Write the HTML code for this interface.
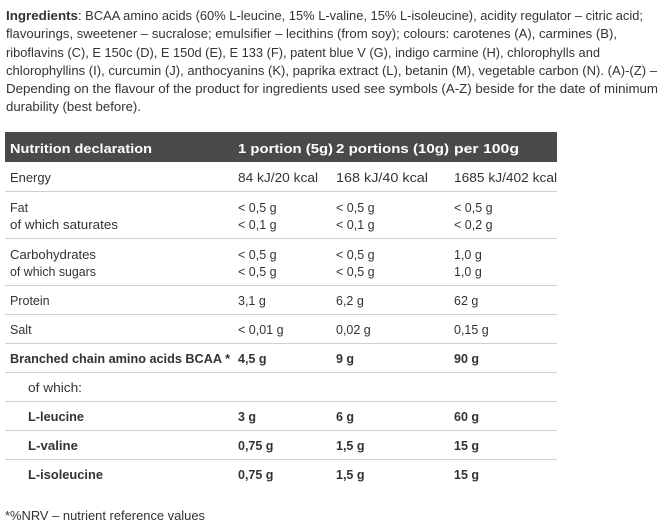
<!DOCTYPE html>
<html><head><meta charset="utf-8"><style>
html,body{margin:0;padding:0;background:#fff;}
svg{display:block;font-family:"Liberation Sans",sans-serif;font-size:13px;fill:#333;}
.b{font-weight:bold;}
.h{font-weight:bold;fill:#fff;}
</style></head><body>
<svg width="669" height="529" viewBox="0 0 669 529">
<g lengthAdjust="spacingAndGlyphs">
<text x="6" y="20"><tspan class="b" textLength="72" lengthAdjust="spacingAndGlyphs">Ingredients</tspan></text>
<text x="78" y="20" textLength="565" lengthAdjust="spacingAndGlyphs">: BCAA amino acids (60% L-leucine, 15% L-valine, 15% L-isoleucine), acidity regulator – citric acid;</text>
<text x="6" y="38" textLength="611" lengthAdjust="spacingAndGlyphs">flavourings, sweetener – sucralose; emulsifier – lecithins (from soy); colours: carotenes (A), carmines (B),</text>
<text x="6" y="57" textLength="594" lengthAdjust="spacingAndGlyphs">riboflavins (C), E 150c (D), E 150d (E), E 133 (F), patent blue V (G), indigo carmine (H), chlorophylls and</text>
<text x="6" y="75" textLength="651" lengthAdjust="spacingAndGlyphs">chlorophyllins (I), curcumin (J), anthocyanins (K), paprika extract (L), betanin (M), vegetable carbon (N). (A)-(Z) –</text>
<text x="6" y="93" textLength="652" lengthAdjust="spacingAndGlyphs">Depending on the flavour of the product for ingredients used see symbols (A-Z) beside for the date of minimum</text>
<text x="6" y="111" textLength="135" lengthAdjust="spacingAndGlyphs">durability (best before).</text>
</g>
<rect x="5" y="132" width="552" height="30" fill="#4a4a4a"/>
<text class="h" x="10" y="153" textLength="142" lengthAdjust="spacingAndGlyphs">Nutrition declaration</text>
<text class="h" x="238" y="153" textLength="95" lengthAdjust="spacingAndGlyphs">1 portion (5g)</text>
<text class="h" x="336" y="153" textLength="113" lengthAdjust="spacingAndGlyphs">2 portions (10g)</text>
<text class="h" x="454" y="153" textLength="65" lengthAdjust="spacingAndGlyphs">per 100g</text>
<g fill="#d0d0d0">
<rect x="5" y="191" width="552" height="1"/>
<rect x="5" y="238" width="552" height="1"/>
<rect x="5" y="285" width="552" height="1"/>
<rect x="5" y="314" width="552" height="1"/>
<rect x="5" y="343" width="552" height="1"/>
<rect x="5" y="372" width="552" height="1"/>
<rect x="5" y="401" width="552" height="1"/>
<rect x="5" y="430" width="552" height="1"/>
<rect x="5" y="459" width="552" height="1"/>
</g>
<g font-size="12.5">
<text x="10" y="182" textLength="41" lengthAdjust="spacingAndGlyphs">Energy</text>
<text x="238" y="182" textLength="80" lengthAdjust="spacingAndGlyphs">84 kJ/20 kcal</text>
<text x="336" y="182" textLength="92" lengthAdjust="spacingAndGlyphs">168 kJ/40 kcal</text>
<text x="454" y="182" textLength="103" lengthAdjust="spacingAndGlyphs">1685 kJ/402 kcal</text>

<text x="10" y="212">Fat</text>
<text x="10" y="229" textLength="108" lengthAdjust="spacingAndGlyphs">of which saturates</text>
<text x="238" y="212">&lt; 0,5 g</text><text x="238" y="229">&lt; 0,1 g</text>
<text x="336" y="212">&lt; 0,5 g</text><text x="336" y="229">&lt; 0,1 g</text>
<text x="454" y="212">&lt; 0,5 g</text><text x="454" y="229">&lt; 0,2 g</text>

<text x="10" y="259" textLength="86" lengthAdjust="spacingAndGlyphs">Carbohydrates</text>
<text x="10" y="276" textLength="86" lengthAdjust="spacingAndGlyphs">of which sugars</text>
<text x="238" y="259">&lt; 0,5 g</text><text x="238" y="276">&lt; 0,5 g</text>
<text x="336" y="259">&lt; 0,5 g</text><text x="336" y="276">&lt; 0,5 g</text>
<text x="454" y="259">1,0 g</text><text x="454" y="276">1,0 g</text>

<text x="10" y="305">Protein</text>
<text x="238" y="305">3,1 g</text><text x="336" y="305">6,2 g</text><text x="454" y="305">62 g</text>

<text x="10" y="334">Salt</text>
<text x="238" y="334">&lt; 0,01 g</text><text x="336" y="334">0,02 g</text><text x="454" y="334">0,15 g</text>

<g class="b">
<text x="10" y="363" textLength="220" lengthAdjust="spacingAndGlyphs">Branched chain amino acids BCAA *</text>
<text x="238" y="363">4,5 g</text><text x="336" y="363">9 g</text><text x="454" y="363">90 g</text>
</g>
<text x="28" y="392" textLength="54" lengthAdjust="spacingAndGlyphs">of which:</text>
<g class="b">
<text x="28" y="421" textLength="56" lengthAdjust="spacingAndGlyphs">L-leucine</text>
<text x="238" y="421">3 g</text><text x="336" y="421">6 g</text><text x="454" y="421">60 g</text>
<text x="28" y="450" textLength="50" lengthAdjust="spacingAndGlyphs">L-valine</text>
<text x="238" y="450">0,75 g</text><text x="336" y="450">1,5 g</text><text x="454" y="450">15 g</text>
<text x="28" y="479" textLength="75" lengthAdjust="spacingAndGlyphs">L-isoleucine</text>
<text x="238" y="479">0,75 g</text><text x="336" y="479">1,5 g</text><text x="454" y="479">15 g</text>
</g>
<text x="5" y="520" textLength="200" lengthAdjust="spacingAndGlyphs">*%NRV – nutrient reference values</text>
</g>
</svg>
</body></html>
